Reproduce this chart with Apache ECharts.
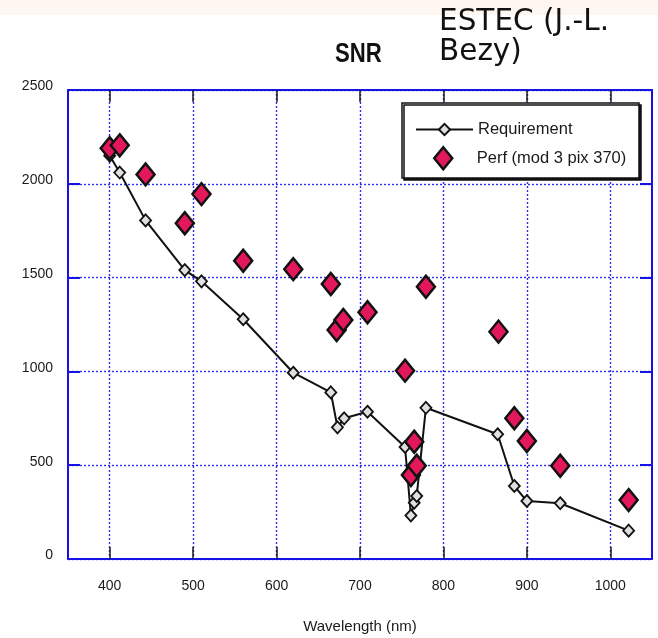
<!DOCTYPE html>
<html>
<head>
<meta charset="utf-8">
<title>SNR</title>
<script src="https://cdn.jsdelivr.net/npm/echarts@6/dist/echarts.min.js"></script>
<style>
  html, body { margin: 0; padding: 0; background: #fff; }
  #chart { width: 658px; height: 638px; }
</style>
</head>
<body>
<div id="chart"></div>
<script>
// Spectral band centres (nm) for the required SNR curve
const reqWavelengths = [400, 412, 443, 490, 510, 560, 620, 665, 673, 681, 709, 754, 761, 765, 768, 779, 865, 885, 900, 940, 1022];
// Required SNR per band
const requirement = [2150, 2060, 1805, 1540, 1480, 1278, 993, 888, 702, 750, 785, 597, 232, 300, 336, 806, 665, 389, 309, 297, 151];
// Band centres (nm) for the predicted performance
const perfWavelengths = [400, 412, 443, 490, 510, 560, 620, 665, 672, 680, 709, 754, 761, 765, 768, 779, 866, 885, 900, 940, 1022];
// Predicted SNR (mod 3, pix 370)
const perf = [2190, 2205, 2050, 1790, 1945, 1590, 1545, 1466, 1221, 1274, 1315, 1004, 448, 625, 497, 1451, 1212, 750, 629, 497, 314];
// Axis tick labels
const xTicks = [400, 500, 600, 700, 800, 900, 1000];
const yTicks = [0, 500, 1000, 1500, 2000, 2500];

const seriesNames = ['Requirement', 'Perf (mod 3 pix 370)'];

// Pick a condensed face when one is installed, otherwise the regular one
function hasFont(name) {
  const ctx = document.createElement('canvas').getContext('2d');
  const sample = '0123456789WwMmRequirement';
  ctx.font = '40px monospace';
  const a = ctx.measureText(sample).width;
  ctx.font = '40px "' + name + '", monospace';
  const b = ctx.measureText(sample).width;
  return Math.abs(a - b) > 0.5;
}
const narrow = hasFont('Liberation Sans Narrow');
const FONT = narrow ? '"Liberation Sans Narrow", "Liberation Sans", sans-serif'
                    : '"Liberation Sans", Arial, sans-serif';
const size = narrow ? { tick: 16.5, name: 18, legend: 19 } : { tick: 14, name: 15, legend: 16.5 };
const squeeze = narrow ? 1 : 0.82;

const BLUE = '#1414e4';
const GRID = '#2f2ff0';
const INK = '#1a1a1a';

const plain = v => String(v);

const chart = echarts.init(document.getElementById('chart'), null, { renderer: 'canvas' });

const xCommon = {
  type: 'value',
  min: 350,
  max: 1050,
  splitNumber: 7,
  axisLine: { show: true, onZero: false, lineStyle: { color: BLUE, width: 2 } },
  axisTick: { show: true, inside: true, length: 12, customValues: xTicks, lineStyle: { color: INK, width: 1.5 } }
};
const yCommon = {
  type: 'value',
  min: yTicks[0],
  max: yTicks[yTicks.length - 1],
  interval: yTicks[1] - yTicks[0],
  axisLine: { show: true, lineStyle: { color: BLUE, width: 2 } },
  axisTick: { show: true, inside: true, length: 12, lineStyle: { color: BLUE, width: 2 } }
};

chart.setOption({
  animation: false,
  backgroundColor: '#ffffff',
  grid: { left: 68, right: 6, top: 90, bottom: 79, containLabel: false, outerBoundsMode: 'none' },
  graphic: [
    { type: 'rect', left: 0, top: 0, z: -1, shape: { width: 658, height: 15 }, style: { fill: '#fef7f1' } },
    {
      type: 'text', x: 335, y: 55, scaleX: squeeze, z: 10,
      style: { text: 'SNR', font: 'bold 27px ' + FONT, fill: '#111', verticalAlign: 'middle', align: 'left' }
    },
    {
      type: 'text', x: 439, y: 7, z: 10,
      style: { text: 'ESTEC (J.-L.\nBezy)', font: '29.5px "DejaVu Sans", Verdana, sans-serif', lineHeight: 30, fill: '#111', verticalAlign: 'top', align: 'left' }
    },
    {
      type: 'rect', z: 3,
      shape: { x: 402, y: 103, width: 237, height: 75 },
      style: { fill: '#ffffff', stroke: '#111', lineWidth: 1.5, shadowColor: '#111', shadowOffsetX: 2, shadowOffsetY: 2, shadowBlur: 0 }
    }
  ],
  legend: [
    {
      data: [{ name: seriesNames[0] }],
      left: 415, top: 121, padding: 0, z: 5,
      selectedMode: false,
      itemWidth: 57, itemHeight: 14,
      textStyle: { fontFamily: FONT, fontSize: size.legend, color: INK }
    },
    {
      data: [{ name: seriesNames[1], icon: 'path://M9,0L18,11L9,22L0,11Z' }],
      left: 433, top: 146, padding: 0, z: 5,
      selectedMode: false,
      itemWidth: 57, itemHeight: 22,
      symbolKeepAspect: true,
      itemStyle: { color: '#e2185b', borderColor: '#111', borderWidth: 2.5 },
      textStyle: { fontFamily: FONT, fontSize: size.legend, color: INK }
    }
  ],
  xAxis: [
    Object.assign({}, xCommon, {
      position: 'bottom',
      axisLabel: { show: true, customValues: xTicks, formatter: plain, margin: 20, fontFamily: FONT, fontSize: size.tick, color: INK },
      splitLine: { show: true, lineStyle: { color: GRID, type: [2, 2], width: 1.4 } },
      name: 'Wavelength (nm)',
      nameLocation: 'middle',
      nameGap: 60,
      nameTextStyle: { fontFamily: FONT, fontSize: size.name, color: INK }
    }),
    Object.assign({}, xCommon, {
      position: 'top',
      axisLabel: { show: false },
      splitLine: { show: false }
    })
  ],
  yAxis: [
    Object.assign({}, yCommon, {
      position: 'left',
      axisLabel: {
        show: true, formatter: plain, margin: 15,
        verticalAlign: 'bottom', lineHeight: 7,
        fontFamily: FONT, fontSize: size.tick, color: INK
      },
      splitLine: { show: true, lineStyle: { color: GRID, type: [2, 2], width: 1.4 } }
    }),
    Object.assign({}, yCommon, {
      position: 'right',
      axisLabel: { show: false },
      splitLine: { show: false }
    })
  ],
  series: [
    {
      name: seriesNames[0],
      type: 'line',
      xAxisIndex: 0,
      yAxisIndex: 0,
      data: reqWavelengths.map((w, i) => [w, requirement[i]]),
      symbol: 'diamond',
      symbolSize: [11, 12],
      showAllSymbol: true,
      lineStyle: { color: '#111', width: 2 },
      itemStyle: { color: '#e0e0e0', borderColor: '#111', borderWidth: 1.8 },
      z: 2
    },
    {
      name: seriesNames[1],
      type: 'scatter',
      xAxisIndex: 0,
      yAxisIndex: 0,
      data: perfWavelengths.map((w, i) => [w, perf[i]]),
      symbol: 'diamond',
      symbolSize: [18, 22],
      itemStyle: { color: '#e2185b', borderColor: '#111', borderWidth: 2.5, opacity: 1 },
      z: 3
    }
  ]
});
</script>
</body>
</html>
